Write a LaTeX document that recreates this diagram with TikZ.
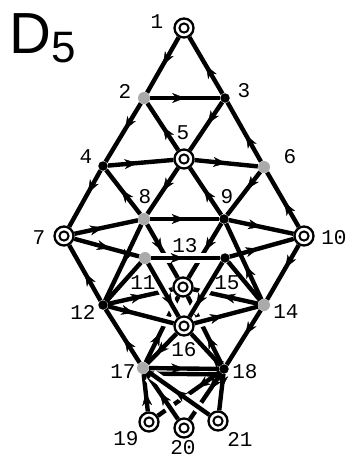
\documentclass[tikz,border=0pt]{standalone}
\usepackage{fontspec}
\setmainfont{Liberation Sans}
\newfontfamily\labfont{Liberation Mono}
\usetikzlibrary{arrows.meta,decorations.markings}
\pgfdeclarelayer{bgwhite}
\pgfdeclarelayer{back}
\pgfdeclarelayer{mid}
\pgfsetlayers{bgwhite,back,mid,main}
\begin{document}
\begin{tikzpicture}[x=1pt,y=-1pt,
  e/.style={line width=4.4pt},
  ar/.style={postaction={decorate,decoration={markings,mark=at position #1 with {\arrow{Stealth[length=13pt,width=10pt,inset=4pt,line width=0.4pt]}}}}},
  halo/.style 2 args={preaction={draw=white,line width=10.5pt,shorten <=#1,shorten >=#2}},
  dbl/.style={circle,draw,fill=white,line width=2.3pt,minimum size=19pt,inner sep=0pt,
    path picture={\draw[line width=2pt] (path picture bounding box.center) circle (4.6pt);}},
  gr/.style={circle,fill={rgb,255:red,170;green,170;blue,170},minimum size=12pt,inner sep=0pt},
  bk/.style={circle,fill=black,minimum size=9.5pt,inner sep=0pt},
  lab/.style={font=\labfont\fontsize{21}{21}\selectfont,inner sep=0pt},
]
\useasboundingbox (0,0) rectangle (352,459);
\begin{pgfonlayer}{bgwhite}
\fill[white] (0,0) rectangle (352,459);
\end{pgfonlayer}

% title
\node[font=\fontsize{58}{58}\selectfont,anchor=base west,inner sep=0pt] (tD) at (9,53) {D};
\node[font=\fontsize{44}{44}\selectfont,anchor=base west,inner sep=0pt] (t5) at (51,62) {5};

% nodes
\node[dbl] (n1) at (184,28) {};
\node[gr] (n2) at (144,98) {};
\node[bk] (n3) at (225,98) {};
\node[bk] (n4) at (103,166) {};
\node[dbl] (n5) at (184,159) {};
\node[gr] (n6) at (264,167) {};
\node[dbl] (n7) at (64,236) {};
\node[gr] (n8) at (144,219) {};
\node[bk] (n9) at (224,219) {};
\node[dbl] (n10) at (304,236) {};
\node[gr] (n11) at (145,258) {};
\node[bk] (n12) at (103,305) {};
\node[gr] (n14) at (264,305) {};
\node[bk] (n15) at (225,258) {};
\node[dbl] (n16) at (184,326) {};
\node[gr] (n17) at (143,368) {};
\node[bk] (n18) at (224,369) {};
\node[dbl] (n19) at (149,422) {};
\node[dbl] (n20) at (184,428) {};
\node[dbl] (n21) at (218,421) {};
\begin{pgfonlayer}{mid}
\node[dbl] (n13) at (183,287) {};
\end{pgfonlayer}

% back edges
\begin{pgfonlayer}{back}
\draw[e,ar=0.5] (n8) -- (n13);
\draw[e,ar=0.5] (n9) -- (n13);
\draw[e,ar=0.55] (n12) -- (n13);
\draw[e,ar=0.55] (n14) -- (n13);
\draw[e,ar=0.45] (n17) -- (n13);
\draw[e,ar=0.42] (n18) -- (n13);
\draw[e,ar=0.36] (n18) -- (n19);
\draw[e,ar=0.36] (n18) -- (n20);
\end{pgfonlayer}

% front edges
\begin{pgfonlayer}{mid}
\draw[e,ar=0.5] (n1) -- (n2);
\draw[e,ar=0.5] (n3) -- (n1);
\draw[e,ar=0.5] (n2) -- (n3);
\draw[e,ar=0.45] (n2) -- (n4);
\draw[e,ar=0.5] (n5) -- (n2);
\draw[e,ar=0.45] (n3) -- (n5);
\draw[e,ar=0.45] (n6) -- (n3);
\draw[e,ar=0.45] (n4) -- (n5);
\draw[e,ar=0.5] (n5) -- (n6);
\draw[e,ar=0.4] (n4) -- (n7);
\draw[e,ar=0.55] (n8) -- (n4);
\draw[e,ar=0.5] (n5) -- (n8);
\draw[e,ar=0.55] (n9) -- (n5);
\draw[e,ar=0.4] (n6) -- (n9);
\draw[e,ar=0.45] (n10) -- (n6);
\draw[e,ar=0.45] (n7) -- (n8);
\draw[e,ar=0.5] (n8) -- (n9);
\draw[e,ar=0.5] (n9) -- (n10);
\draw[e,ar=0.55] (n7) -- (n11);
\draw[e,ar=0.45] (n15) -- (n10);
\draw[e,ar=0.5] (n12) -- (n7);
\draw[e,ar=0.42] (n10) -- (n14);
\draw[e] (n11) -- (n12);
\draw[e] (n15) -- (n14);
\draw[e,ar=0.5] (n8) -- (n12);
\draw[e,ar=0.45] (n14) -- (n9);
\draw[e,ar=0.45] (n17) -- (n12);
\draw[e,ar=0.45] (n14) -- (n18);
\draw[e,ar=0.7] (n16) -- (n17);
\draw[e,ar=0.3] (n18) -- (n16);
\draw[e,ar=0.5] (n17) -- (n18);
\draw[e,transform canvas={yshift=-5.5pt}] (n17) -- (n18);
\draw[e,ar=0.5] (n19) -- (n17);
\draw[e,ar=0.4] (n18) -- (n21);
\draw[e,halo={8pt}{8pt},ar=0.47] (n11) -- (n15);
\draw[e,halo={10pt}{3pt},ar=0.4] (n12) -- (n16);
\draw[e,halo={3pt}{10pt},ar=0.45] (n16) -- (n14);
\draw[e,halo={5pt}{5pt},ar=0.8] (n11) -- (n16);
\draw[e,halo={5pt}{5pt},ar=0.8] (n15) -- (n16);
\draw[e,halo={5pt}{5pt},ar=0.58] (n20) -- (n17);
\draw[e,halo={5pt}{5pt},ar=0.57] (n21) -- (n17);
\end{pgfonlayer}

% labels
\node[lab] (l1) at (157,22) {1};
\node[lab] (l2) at (125,91) {2};
\node[lab] (l3) at (244,91) {3};
\node[lab] (l4) at (86,157) {4};
\node[lab] (l5) at (183,133) {5};
\node[lab] (l6) at (290,157) {6};
\node[lab] (l7) at (39,238) {7};
\node[lab] (l8) at (145,197) {8};
\node[lab] (l9) at (227,197) {9};
\node[lab] (l10) at (334,238) {10};
\node[lab] (l11) at (143,283) {11};
\node[lab] (l12) at (83,312) {12};
\node[lab] (l13) at (185,246) {13};
\node[lab] (l14) at (286,312) {14};
\node[lab] (l15) at (227,283) {15};
\node[lab] (l16) at (184,350) {16};
\node[lab] (l17) at (123,372) {17};
\node[lab] (l18) at (245,372) {18};
\node[lab] (l19) at (126,439) {19};
\node[lab] (l20) at (183,448) {20};
\node[lab] (l21) at (240,439) {21};
\end{tikzpicture}
\end{document}
